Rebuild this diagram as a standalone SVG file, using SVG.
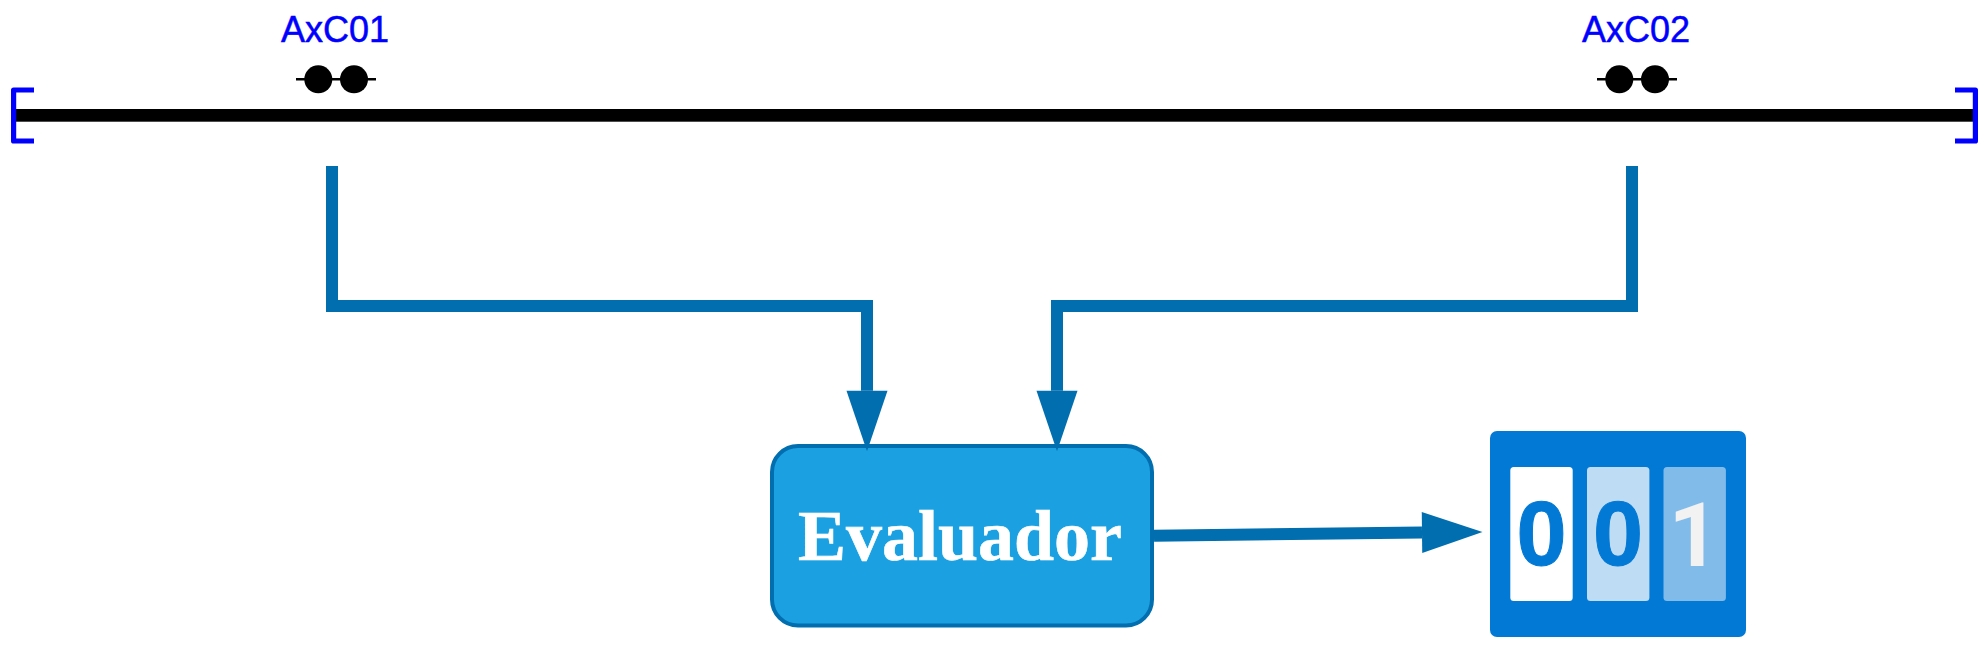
<svg xmlns="http://www.w3.org/2000/svg" width="1988" height="652" viewBox="0 0 1988 652">
  <style>
    .ax { font-family: "Liberation Sans", Arial, sans-serif; font-size: 36px; fill: #0000ff; stroke: #0000ff; stroke-width: 0.5; }
    .bracket { fill: none; stroke: #0000ff; stroke-width: 5.2; stroke-linejoin: round; }
    .sw { stroke: #000000; stroke-width: 2.5; fill: none; }
    .conn { fill: none; stroke: #006eaf; stroke-width: 12; stroke-linejoin: miter; marker-end: url(#arrow); }
    .digit { font-family: "Liberation Sans", Arial, sans-serif; font-size: 90px; font-weight: bold; text-anchor: middle; stroke-width: 1; }
  </style>
  <defs>
    <marker id="arrow" markerUnits="userSpaceOnUse" markerWidth="62" markerHeight="42" refX="0" refY="21" orient="auto" overflow="visible">
      <path d="M0 0.5 L60.5 21 L0 41.5 Z" fill="#006eaf"/>
    </marker>
  </defs>
  <rect width="1988" height="652" fill="#ffffff"/>
  <g id="track">
    <rect x="16" y="109" width="1957.5" height="12.7" fill="#000000"/>
    <path class="bracket" d="M34 90 H13.6 V141 H34"/>
    <path class="bracket" d="M1955 90 H1975.4 V141 H1955"/>
  </g>
  <g id="axc01">
    <text class="ax" x="281" y="42">AxC01</text>
    <path class="sw" d="M296 79.3 H376"/>
    <circle cx="318.3" cy="79.3" r="14"/>
    <circle cx="354" cy="79.3" r="14"/>
  </g>
  <g id="axc02">
    <text class="ax" x="1582" y="42">AxC02</text>
    <path class="sw" d="M1597 79.3 H1677"/>
    <circle cx="1619.3" cy="79.3" r="14"/>
    <circle cx="1655" cy="79.3" r="14"/>
  </g>
  <g id="evaluador">
    <rect x="772" y="446" width="380" height="179.5" rx="26" ry="26" fill="#1ba1e2" stroke="#006eaf" stroke-width="4"/>
    <text x="960" y="560" text-anchor="middle" font-family="'Liberation Serif', 'Times New Roman', serif" font-size="72" font-weight="bold" fill="#ffffff" stroke="#ffffff" stroke-width="0.6">Evaluador</text>
  </g>
  <g id="counter">
    <rect x="1490" y="431" width="256" height="206" rx="7" ry="7" fill="#0279d5"/>
    <rect x="1510.3" y="467" width="62.4" height="134" rx="3.5" fill="#ffffff"/>
    <rect x="1587" y="467" width="62.4" height="134" rx="3.5" fill="#bfdcf5"/>
    <rect x="1663.5" y="467" width="62.4" height="134" rx="3.5" fill="#80bbea"/>
    <text class="digit" x="1541.5" y="565" fill="#0279d5" stroke="#0279d5">0</text>
    <text class="digit" x="1618" y="565" fill="#0279d5" stroke="#0279d5">0</text>
    <text class="digit" x="1694" y="565.5" fill="#f2f2f2" style="font-family:Roboto,'Liberation Sans',sans-serif;font-size:89px">1</text>
  </g>
  <g id="connectors">
    <path class="conn" d="M332 166 V306 H867 V390.7"/>
    <path class="conn" d="M1632 166 V306 H1057 V390.7"/>
    <path class="conn" d="M1154 535.7 L1422 532.6"/>
  </g>
</svg>
